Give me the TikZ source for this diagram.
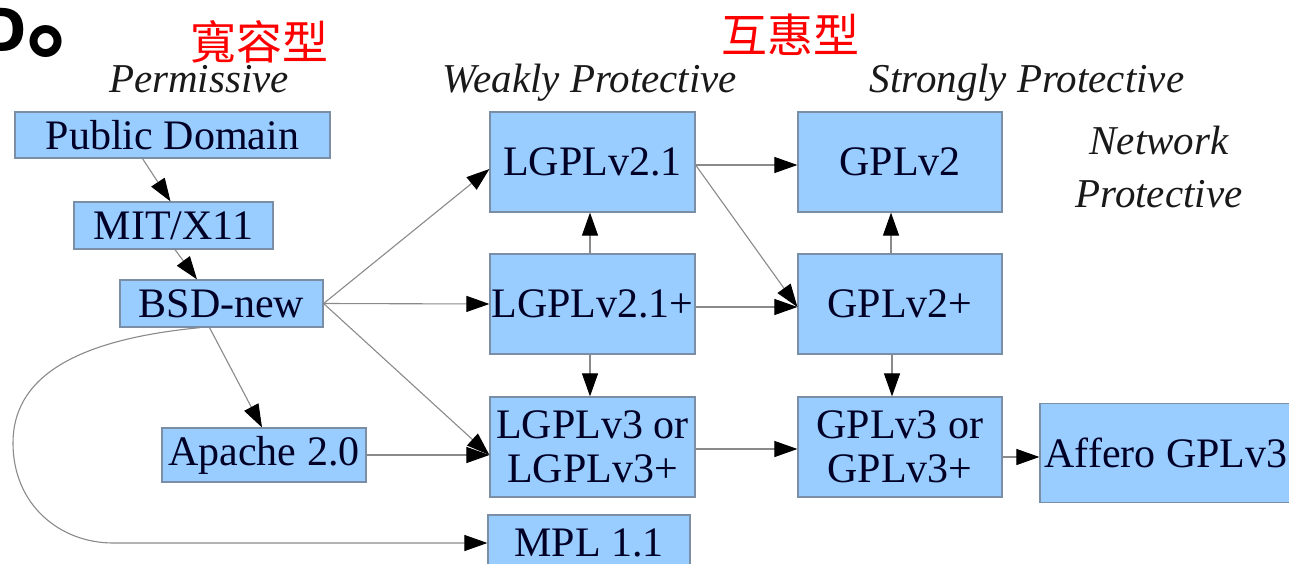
\documentclass[tikz,border=0pt]{standalone}
\usepackage{fontspec}
\setmainfont{Liberation Serif}
\newfontfamily\cjkfont{Noto Sans CJK TC}
\newfontfamily\cjksc{Noto Sans CJK SC}
\usetikzlibrary{arrows.meta}
\definecolor{boxfill}{HTML}{99CCFF}
\definecolor{boxdraw}{HTML}{7A8FA6}
\definecolor{linegray}{HTML}{8A8A8A}
\tikzset{
  lic/.style={draw=boxdraw, fill=boxfill, line width=1.2pt, inner sep=0pt, align=center,
    font=\fontsize{42}{44}\selectfont, text=black!85!blue},
  cat/.style={inner sep=0pt, font=\fontsize{41}{53}\selectfont\itshape, text=black!90, align=center},
  cjklabel/.style={inner sep=0pt, font=\cjkfont\fontsize{46}{50}\selectfont, text=red},
  conn/.style={draw=linegray, line width=1.1pt, -{Triangle[length=23pt,width=16pt,black]}}
}
\begin{document}
\begin{tikzpicture}[x=1pt,y=-1pt]
\useasboundingbox (0,0) rectangle (1289,564);
\fill[white] (0,0) rectangle (1289,564);

% top-left fragment
\node[inner sep=0pt, anchor=base east, font=\cjksc\bfseries\fontsize{58}{60}\selectfont] (dletter) at (27,52) {D};
\node[inner sep=0pt, anchor=base west, font=\cjksc\bfseries\fontsize{96}{98}\selectfont] (dmark) at (27,50) {。};

% red CJK labels
\node[cjklabel] (lblperm) at (259,42) {寬容型};
\node[cjklabel] (lblrecip) at (790,35) {互惠型};

% category labels
\node[cat, anchor=base] (permissive) at (199,93) {Permissive};
\node[cat, anchor=base] (weak) at (590,93) {Weakly Protective};
\node[cat, anchor=base] (strong) at (1027,93) {Strongly Protective};
\node[cat, anchor=base] (netw) at (1159,155) {Network};
\node[cat, anchor=base] (netp) at (1159,207) {Protective};

% boxes
\node[lic, minimum width=315pt, minimum height=46pt] (pd) at (172.5,135) {Public Domain};
\node[lic, minimum width=199pt, minimum height=47pt] (mit) at (173.5,225.5) {MIT/X11};
\node[lic, minimum width=203pt, minimum height=47pt] (bsd) at (221.5,303.5) {BSD-new};
\node[lic, minimum width=204pt, minimum height=54pt] (apache) at (264,455) {Apache 2.0};
\node[lic, minimum width=205pt, minimum height=100pt] (lgpl21) at (592.5,162) {LGPLv2.1};
\node[lic, minimum width=204pt, minimum height=100pt] (gpl2) at (900,162) {GPLv2};
\node[lic, minimum width=205pt, minimum height=100pt] (lgpl21p) at (592.5,304) {LGPLv2.1+};
\node[lic, minimum width=204pt, minimum height=100pt] (gpl2p) at (900,304) {GPLv2+};
\node[lic, minimum width=205pt, minimum height=100pt] (lgpl3) at (592.5,447) {LGPLv3 or\\LGPLv3+};
\node[lic, minimum width=204pt, minimum height=100pt] (gpl3) at (900,447) {GPLv3 or\\GPLv3+};
\node[lic, minimum width=252pt, minimum height=99pt] (affero) at (1166,453) {Affero GPLv3};
\node[lic, minimum width=202pt, minimum height=56pt] (mpl) at (589,543) {MPL 1.1};

% connectors
\draw[conn] ([xshift=-30pt]pd.south) -- ([xshift=-3pt]mit.north);
\draw[conn] ([xshift=1.5pt]mit.south) -- ([xshift=-24.5pt]bsd.north);
\draw[conn] (bsd.east) -- ([yshift=-7pt]lgpl21.west);
\draw[conn] (bsd.east) -- (lgpl21p.west);
\draw[conn] (bsd.east) -- ([yshift=-8pt]lgpl3.west);
\draw[conn] ([xshift=-12pt]bsd.south) -- ([xshift=-2pt]apache.north);
\draw[conn] (apache.east) -- ([yshift=-8pt]lgpl3.west);
\draw[conn] ([xshift=-21pt]bsd.south) .. controls (70,340) and (13,380) .. (13,443)
  .. controls (13,505) and (60,543) .. (113,543) -- (mpl.west);
\draw[conn] ([xshift=-2.5pt]lgpl21p.north) -- ([xshift=-2.5pt]lgpl21.south);
\draw[conn] ([xshift=-2.5pt]lgpl21p.south) -- ([xshift=-2.5pt]lgpl3.north);
\draw[conn] ([yshift=-3pt]lgpl21.east) -- ([yshift=-3pt]gpl2.west);
\draw[conn] ([yshift=-3pt]lgpl21.east) -- ([yshift=-3pt]gpl2p.west);
\draw[conn] ([yshift=-3pt]lgpl21p.east) -- ([yshift=-3pt]gpl2p.west);
\draw[conn] ([xshift=-9pt]gpl2p.north) -- ([xshift=-9pt]gpl2.south);
\draw[conn] ([xshift=-8pt]gpl2p.south) -- ([xshift=-8pt]gpl3.north);
\draw[conn] ([yshift=-2pt]lgpl3.east) -- ([yshift=-2pt]gpl3.west);
\draw[conn] ([yshift=-10pt]gpl3.east) -- ([yshift=-4pt]affero.west);
\end{tikzpicture}
\end{document}
